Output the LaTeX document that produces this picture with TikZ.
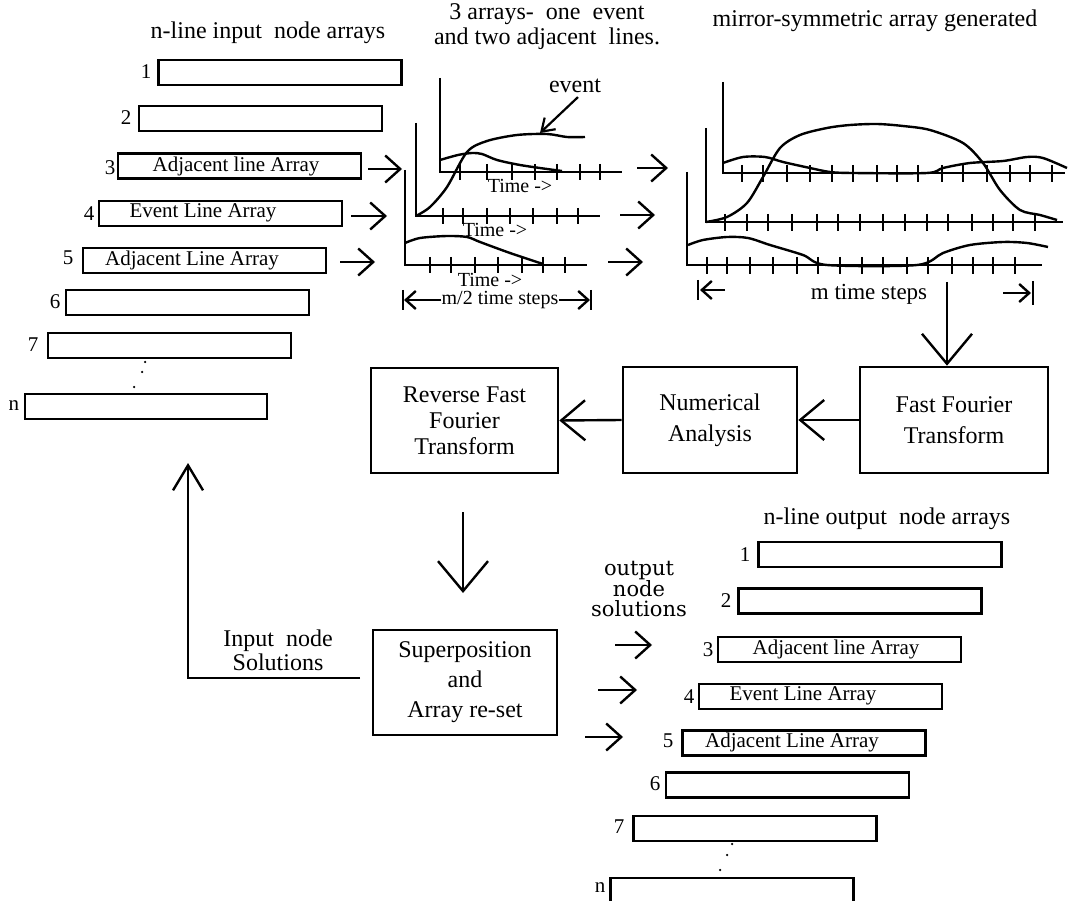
\documentclass[tikz,border=0pt]{standalone}
\usepackage{fontspec}
\setmainfont{Liberation Serif}
\newfontfamily\schfont{DejaVu Serif}
\usetikzlibrary{arrows.meta,calc}

\begin{document}
\begin{tikzpicture}[x=1pt,y=-1pt,
  arr/.style={draw,line width=2.6pt,minimum width=243pt,minimum height=25pt,inner sep=0pt},
  blk/.style={draw,line width=2.6pt,inner sep=0pt,align=center,font=\fontsize{24}{31}\selectfont},
  lbl/.style={inner sep=0pt,font=\fontsize{21}{21}\selectfont},
  num/.style={inner sep=0pt,font=\fontsize{21}{21}\selectfont},
  ttl/.style={inner sep=0pt,align=center,font=\fontsize{24}{25}\selectfont},
  tim/.style={inner sep=0pt,font=\fontsize{20}{20}\selectfont},
  axis/.style={line width=2.6pt},
  tick/.style={line width=2.4pt},
  curve/.style={line width=2.4pt},
  conn/.style={line width=2.4pt,-{Straight Barb[length=15pt,width=27pt]}},
  bigconn/.style={line width=2.4pt,-{Straight Barb[length=30pt,width=50pt]}},
  midconn/.style={line width=2.4pt,-{Straight Barb[length=24pt,width=40pt]}},
  upconn/.style={line width=2.4pt,-{Straight Barb[length=25pt,width=30pt]}},
  evconn/.style={line width=2.2pt,-{Straight Barb[length=12pt,width=16pt]}},
  spanconn/.style={line width=2.4pt,-{Straight Barb[length=10pt,width=18pt]}},
  dot/.style={circle,fill,inner sep=0pt,minimum size=2.5pt}
]
\useasboundingbox (0,0) rectangle (1074,901);

% ---------------- input node arrays ----------------
\node[ttl] (intitle) at (268,33) {n-line input\ \ node arrays};
\node[arr] (in1) at (280,72.5) {};
\node[arr] (in2) at (260.5,118.5) {};
\node[arr] (in3) at (239.5,166) {};
\node[arr] (in4) at (220.5,213.5) {};
\node[arr] (in5) at (204.5,260.5) {};
\node[arr] (in6) at (187.5,302.5) {};
\node[arr] (in7) at (169.5,345.5) {};
\node[arr,minimum width=242pt] (inn) at (146,406.5) {};
\node[num] (nin1) at (146,72) {1};
\node[num] (nin2) at (126,118) {2};
\node[num] (nin3) at (110,168) {3};
\node[num] (nin4) at (89,214) {4};
\node[num] (nin5) at (68,258) {5};
\node[num] (nin6) at (55,302) {6};
\node[num] (nin7) at (33,345) {7};
\node[num] (ninn) at (14,406) {n};
\node[lbl] (tin3) at (236,166) {Adjacent line Array};
\node[lbl] (tin4) at (203,213) {Event Line Array};
\node[lbl] (tin5) at (192,260) {Adjacent Line Array};
\node[dot] (din1) at (145,362) {};
\node[dot] (din2) at (142,372) {};
\node[dot] (din3) at (134,387) {};

% ---------------- three arrays (half length) ----------------
\node[ttl] (halftitle) at (547,27) {3 arrays-\ \ one\ \ event\\and two adjacent\ \ lines.};
% axes
\draw[axis] (440,78) -- (440,172) -- (622,172);
\draw[axis] (416,123) -- (416,216) -- (600,216);
\draw[axis] (405,170) -- (405,265) -- (587,265);
\foreach \x in {460,487,512,535,557,580,600} \draw[tick] (\x,164) -- (\x,180);
\foreach \x in {443,463,487,510,533,557,578} \draw[tick] (\x,208) -- (\x,224);
\foreach \x in {430,451,475,498,522,543,565} \draw[tick] (\x,257) -- (\x,273);
% signals
\draw[curve] plot[smooth,tension=0.5] coordinates {(416,216) (430,207) (447,187) (467,152) (487,141) (517,135) (547,134) (567,137) (585,137)};
\draw[curve] plot[smooth,tension=0.5] coordinates {(440,160) (458,155) (472,153) (482,154) (497,160) (520,165) (547,169) (562,171)};
\draw[curve] plot[smooth,tension=0.5] coordinates {(405,243) (420,238) (447,236) (467,237) (480,242) (510,253) (543,264)};
\node[tim] (time1) at (520,186) {Time ->};
\node[tim] (time2) at (495,230) {Time ->};
\node[tim] (time3) at (490,280) {Time ->};
\node[ttl] (evlabel) at (575,86) {event};
\coordinate (evtip) at (540,133);
\draw[evconn] ($(evlabel.south)+(3,4)$) -- (evtip);
% half span marker
\node[tim] (halfspan) at (500,300) {m/2 time steps};
\coordinate (hsl) at (404,300);
\coordinate (hsr) at (590,300);
\draw[line width=2.4pt] (403,290) -- (403,310);
\draw[line width=2.4pt] (591,290) -- (591,310);
\draw[spanconn] (halfspan.west) -- (hsl);
\draw[spanconn] (halfspan.east) -- (hsr);

% inputs into the three arrays
\coordinate (p3in) at (402,169);
\coordinate (p4in) at (387,216);
\coordinate (p5in) at (375,262);
\draw[conn] ($(in3.east)+(6,3)$) -- (p3in);
\draw[conn] ($(in4.east)+(8,2.5)$) -- (p4in);
\draw[conn] ($(in5.east)+(13,1.5)$) -- (p5in);

% arrays to mirrored arrays
\coordinate (m1a) at (637,168); \coordinate (m1b) at (668,168);
\coordinate (m2a) at (620,215); \coordinate (m2b) at (655,215);
\coordinate (m3a) at (608,262); \coordinate (m3b) at (643,262);
\draw[conn] (m1a) -- (m1b);
\draw[conn] (m2a) -- (m2b);
\draw[conn] (m3a) -- (m3b);

% ---------------- mirror-symmetric arrays ----------------
\node[ttl] (mirtitle) at (875,21) {mirror-symmetric array generated};
\draw[axis] (723,82) -- (723,173) -- (1065,173);
\draw[axis] (706,128) -- (706,222) -- (1063,222);
\draw[axis] (687,172) -- (687,265) -- (1042,265);
\foreach \x in {742,763,787,810,832,853,877,897,918,942,963,987,1010,1030,1052} \draw[tick] (\x,165) -- (\x,182);
\foreach \x in {725,747,768,792,817,838,860,883,905,927,948,972,993,1013,1035} \draw[tick] (\x,214) -- (\x,231);
\foreach \x in {707,727,750,773,797,818,840,862,883,907,928,952,973,993,1015} \draw[tick] (\x,257) -- (\x,274);
\draw[curve] plot[smooth,tension=0.5] coordinates {(723,163) (743,157) (765,157) (783,162) (810,168) (830,172) (853,173) (927,173) (943,168) (970,163) (1003,161) (1027,157) (1043,158) (1067,168)};
\draw[curve] plot[smooth,tension=0.5] coordinates {(706,222) (727,217) (747,203) (763,177) (780,148) (800,135) (827,128) (850,125) (877,124) (903,126) (930,130) (963,143) (983,163) (1000,190) (1020,210) (1040,215) (1057,220)};
\draw[curve] plot[smooth,tension=0.5] coordinates {(688,245) (703,240) (727,237) (748,238) (770,245) (803,255) (827,265) (917,265) (943,253) (970,245) (1003,242) (1027,243) (1048,247)};
% full span marker
\node[ttl,font=\fontsize{23}{23}\selectfont] (fullspan) at (869,294) {m time steps};
\coordinate (fsl) at (700,290); \coordinate (fsla) at (725,290);
\coordinate (fsr) at (1031,293); \coordinate (fsra) at (1003,293);
\draw[line width=2.4pt] (698,280) -- (698,300);
\draw[line width=2.4pt] (1033,281) -- (1033,305);
\draw[spanconn] (fsla) -- (fsl);
\draw[spanconn] (fsra) -- (fsr);

% ---------------- processing blocks ----------------
\node[blk,minimum width=188pt,minimum height=106pt] (fft) at (954,420) {Fast Fourier\\Transform};
\node[blk,minimum width=174pt,minimum height=106pt] (na) at (710,420) {Numerical\\Analysis};
\node[blk,minimum width=187pt,minimum height=105pt,font=\fontsize{24}{26}\selectfont] (rfft) at (464.5,420.5) {Reverse Fast\\Fourier\\Transform};
\node[blk,minimum width=184pt,minimum height=105pt,font=\fontsize{24}{30}\selectfont] (sup) at (465,682.5) {Superposition\\and\\Array re-set};

\coordinate (mtop) at (947,282);
\draw[bigconn] (mtop) -- (mtop |- fft.north);
\draw[midconn] (fft.west) -- (na.east);
\draw[midconn] (na.west) -- (rfft.east);
\coordinate (dtop) at (463,512);
\coordinate (dbot) at (463,593);
\draw[bigconn] (dtop) -- (dbot);

% feedback to the input arrays
\coordinate (fbstart) at (360,678);
\coordinate (fbcorner) at (188,678);
\coordinate (fbend) at (188,463);
\draw[upconn,line join=miter] (fbstart) -- (fbcorner) -- (fbend);
\node[ttl,font=\fontsize{24}{24}\selectfont] (insol) at (278,650) {Input\ \ node\\Solutions};

% ---------------- output node arrays ----------------
\node[ttl] (outtitle) at (887,519) {n-line output\ \ node arrays};
\node[arr] (out1) at (880,554.5) {};
\node[arr] (out2) at (860,601) {};
\node[arr] (out3) at (839.5,649.5) {};
\node[arr] (out4) at (820.5,696.5) {};
\node[arr] (out5) at (804,743) {};
\node[arr] (out6) at (787.5,785) {};
\node[arr] (out7) at (755,828.5) {};
\node[arr] (outn) at (732,890.5) {};
\node[num] (nout1) at (745,555) {1};
\node[num] (nout2) at (726,601) {2};
\node[num] (nout3) at (708,650) {3};
\node[num] (nout4) at (689,697) {4};
\node[num] (nout5) at (668,741) {5};
\node[num] (nout6) at (655,784) {6};
\node[num] (nout7) at (619,827) {7};
\node[num] (noutn) at (600,888) {n};
\node[lbl] (tout3) at (836,649) {Adjacent line Array};
\node[lbl] (tout4) at (803,696) {Event Line Array};
\node[lbl] (tout5) at (792,742) {Adjacent Line Array};
\node[dot] (dout1) at (732,844) {};
\node[dot] (dout2) at (727,855) {};
\node[dot] (dout3) at (720,870) {};

\node[inner sep=0pt,align=center,font=\schfont\fontsize{21}{20}\selectfont] (outsol) at (639,589) {output\\node\\solutions};
\coordinate (o3a) at (615,645); \coordinate (o3b) at (652,645);
\coordinate (o4a) at (598,690); \coordinate (o4b) at (637,690);
\coordinate (o5a) at (585,737); \coordinate (o5b) at (623,737);
\draw[conn] (o3a) -- (o3b);
\draw[conn] (o4a) -- (o4b);
\draw[conn] (o5a) -- (o5b);
\end{tikzpicture}
\end{document}
